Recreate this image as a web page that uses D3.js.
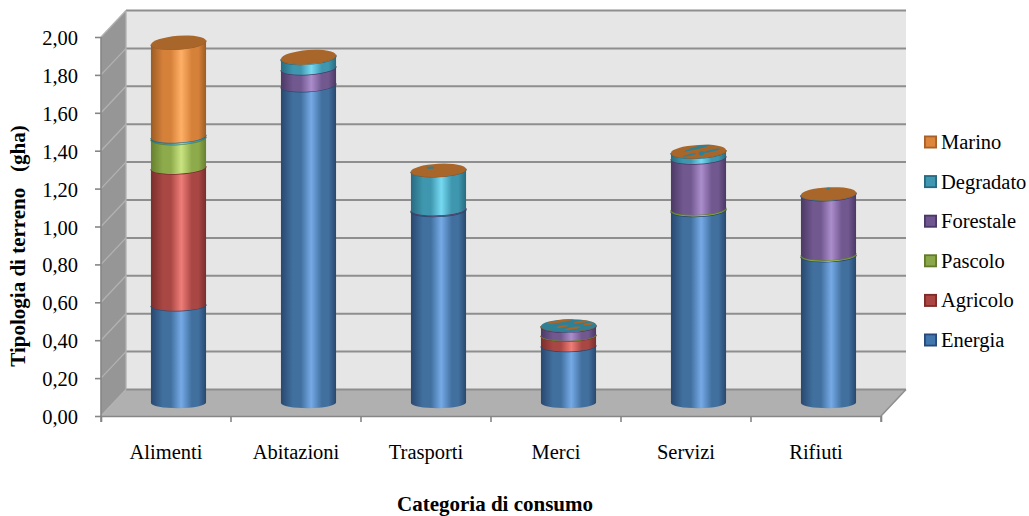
<!DOCTYPE html>
<html><head><meta charset="utf-8">
<script src="https://cdnjs.cloudflare.com/ajax/libs/d3/7.8.5/d3.min.js"></script>
<style>
html,body{margin:0;padding:0;background:#fff}
text{font-family:"Liberation Serif","Times New Roman",serif;fill:#000}
</style></head><body>
<svg id="chart" width="1029" height="516"></svg>
<script>
// Ecological footprint per consumption category, land types stacked
const categories = ["Alimenti","Abitazioni","Trasporti","Merci","Servizi","Rifiuti"];
const energia   = [0.515, 1.675, 1.015, 0.30, 1.015, 0.775];
const agricolo  = [0.725, 0, 0, 0.055, 0, 0];
const pascolo   = [0.155, 0, 0, 0.002, 0.008, 0.008];
const forestale = [0, 0.09, 0.005, 0.045, 0.27, 0.315];
const degradato = [0.01, 0.055, 0.205, 0.005, 0.03, 0.003];
const marino    = [0.495, 0.005, 0.002, 0.001, 0.003, 0.002];
const seriesNames = ["Energia","Agricolo","Pascolo","Forestale","Degradato","Marino"];
const yTicks = [0,0.2,0.4,0.6,0.8,1.0,1.2,1.4,1.6,1.8,2.0];

const palette = {
  Energia:  {edge:"#28486e", mid:"#41709f", light:"#76aae6", swatch:"#4277ae", border:"#26497a"},
  Agricolo: {edge:"#7a2e2c", mid:"#a94744", light:"#ef7d78", swatch:"#ab4542", border:"#7d2b2a"},
  Pascolo:  {edge:"#66802f", mid:"#8dab4b", light:"#cbe482", swatch:"#8aa84a", border:"#627a2d"},
  Forestale:{edge:"#4b3965", mid:"#71588f", light:"#ab8dcc", swatch:"#6f5690", border:"#4a3866"},
  Degradato:{edge:"#296b80", mid:"#3e97ae", light:"#76daf2", swatch:"#3f97b1", border:"#276a80"},
  Marino:   {edge:"#9c5c24", mid:"#d6813a", light:"#ffb066", swatch:"#dd853a", border:"#a8602a"}
};
const capColor = "#a9662a";
const labelSize = 20.5;

const rows = categories.map((c,i)=>({category:c,Energia:energia[i],Agricolo:agricolo[i],Pascolo:pascolo[i],
  Forestale:forestale[i],Degradato:degradato[i],Marino:marino[i]}));
const stacked = d3.stack().keys(seriesNames)(rows);

const svg = d3.select("#chart");
const x = d3.scaleBand().domain(categories).range([101,881]);
const y = d3.scaleLinear().domain([0,2]).range([416,37]);
const depthX = 25, depthY = 26.5;

// Gradients for cylinder shading
const defs = svg.append("defs");
seriesNames.forEach(n=>{
  const p = palette[n];
  const g = defs.append("linearGradient").attr("id","g-"+n).attr("x1","0").attr("x2","1").attr("y1","0").attr("y2","0");
  [[0,p.edge],[0.22,p.mid],[0.36,p.mid],[0.55,p.light],[0.74,p.mid],[0.86,p.mid],[1,p.edge]]
    .forEach(([o,c])=>g.append("stop").attr("offset",o).attr("stop-color",c));
});

// Walls and floor of the chart box
const x0 = x.range()[0], x1 = x.range()[1], yB = y(0), yT = y(2);
const poly = (pts,fill)=>svg.append("polygon").attr("points",pts.map(p=>p.join(",")).join(" ")).attr("fill",fill);
poly([[x0+depthX,yT-depthY],[x1+depthX,yT-depthY],[x1+depthX,yB-depthY],[x0+depthX,yB-depthY]],"#e6e6e6");
poly([[x0,yT],[x0+depthX,yT-depthY],[x0+depthX,yB-depthY],[x0,yB]],"#969696");
poly([[x0,yB],[x0+depthX,yB-depthY],[x1+depthX,yB-depthY],[x1,yB]],"#b0b0b0");

// Gridlines along the side and back walls
svg.append("g").selectAll("line").data(yTicks).join("line")
  .attr("x1",x0).attr("y1",d=>y(d)).attr("x2",x0+depthX).attr("y2",d=>y(d)-depthY)
  .attr("stroke","#b2b2b2").attr("stroke-width",1.3);
svg.append("g").selectAll("line").data(yTicks).join("line")
  .attr("x1",x0+depthX).attr("y1",d=>y(d)-depthY).attr("x2",x1+depthX).attr("y2",d=>y(d)-depthY)
  .attr("stroke","#8e8e8e").attr("stroke-width",2);
svg.append("line").attr("x1",x0+depthX).attr("x2",x0+depthX).attr("y1",yT-depthY).attr("y2",yB-depthY)
  .attr("stroke","#b2b2b2").attr("stroke-width",1.3);
svg.append("line").attr("x1",x1).attr("y1",yB).attr("x2",x1+depthX).attr("y2",yB-depthY)
  .attr("stroke","#8e8e8e").attr("stroke-width",1.5);

// Axes on the front edge
const yAxis = d3.axisLeft(y).tickValues(yTicks).tickSize(6).tickPadding(17)
  .tickFormat(d=>d3.format(".2f")(d).replace(".",","));
const gy = svg.append("g").attr("transform",`translate(${x0},0)`).call(yAxis);
gy.selectAll("text").attr("font-size",labelSize).attr("font-family","Liberation Serif").attr("fill","#000").attr("dy","0.37em");
gy.selectAll("line,path").attr("stroke","#868686").attr("stroke-width",1.6);
gy.select("path").attr("d",`M0,${yB}V${yT}`);

const xAxis = d3.axisBottom(x).tickSize(6).tickPadding(22.4).tickSizeOuter(6);
const gx = svg.append("g").attr("transform",`translate(0,${yB})`).call(xAxis);
gx.selectAll("text").attr("font-size",labelSize).attr("font-family","Liberation Serif").attr("fill","#000");
gx.selectAll(".tick line").remove();
gx.select("path").attr("stroke","#868686").attr("stroke-width",1.6);
gx.selectAll("line.sep").data(d3.range(categories.length+1)).join("line").attr("class","sep")
  .attr("x1",i=>x0+i*x.step()).attr("x2",i=>x0+i*x.step()).attr("y1",0).attr("y2",6)
  .attr("stroke","#868686").attr("stroke-width",1.6);

// Cylinder geometry: centre line sits half way into the box depth
const rx = x.step()*0.212;
const cx = c => x(c)+x.bandwidth()/2+depthX/2;
const cyOf = v => y(v)-depthY/2;
const tilt = v => 0.5+2*v;              // perspective tilt of the rim in degrees
const ry = v => 5.4+0.5*v;
const rimEnds = (c,v)=>{
  const dy = rx*Math.sin(tilt(v)*Math.PI/180);
  return {lx:cx(c)-rx, ly:cyOf(v)+dy, rxx:cx(c)+rx, ry:cyOf(v)-dy};
};
const frontArc = (c,v)=>{
  const e = rimEnds(c,v);
  return `M${e.lx},${e.ly}A${rx},${ry(v)} ${-tilt(v)} 0 0 ${e.rxx},${e.ry}`;
};
const segmentPath = (c,v0,v1)=>{
  const a = rimEnds(c,v0), b = rimEnds(c,v1);
  return `M${a.lx},${a.ly}A${rx},${ry(v0)} ${-tilt(v0)} 0 0 ${a.rxx},${a.ry}L${b.rxx},${b.ry}L${b.lx},${b.ly}Z`;
};

// Stacked cylinder segments, bottom to top
const bars = svg.append("g");
stacked.forEach((layer)=>{
  const n = layer.key;
  const g = bars.append("g").attr("class","series-"+n);
  const live = layer.map(d=>({c:d.data.category,v0:d[0],v1:d[1]})).filter(d=>d.v1>d.v0);
  g.selectAll("path.body").data(live).join("path").attr("class","body")
    .attr("d",d=>segmentPath(d.c,d.v0,d.v1)).attr("fill",`url(#g-${n})`);
  g.selectAll("path.rim").data(live).join("path").attr("class","rim")
    .attr("d",d=>frontArc(d.c,d.v1)).attr("fill","none")
    .attr("stroke",palette[n].edge).attr("stroke-width",1.4);
});

// Top caps: where the top layers are nearly empty the two colours interleave
const totals = rows.map((r,i)=>({c:r.category,v:d3.sum(seriesNames,k=>r[k])}));
const caps = svg.append("g");
const teal = "#2f8094";
totals.forEach((t,i)=>{
  const g = caps.append("g").attr("transform",`translate(${cx(t.c)},${cyOf(t.v)}) rotate(${-tilt(t.v)})`);
  const capRy = ry(t.v)+0.5;
  defs.append("clipPath").attr("id","cap-"+i).append("ellipse").attr("rx",rx).attr("ry",capRy);
  g.append("ellipse").attr("rx",rx).attr("ry",capRy)
    .attr("fill",t.c==="Merci"?teal:capColor);
  const inner = g.append("g").attr("clip-path",`url(#cap-${i})`);
  const fleck = (list,fill,rot)=>list.forEach(f=>
    inner.append("ellipse").attr("cx",f[0]).attr("cy",f[1]).attr("rx",f[2]).attr("ry",f[3]).attr("fill",fill)
      .attr("transform",`rotate(${rot} ${f[0]} ${f[1]})`));
  if(t.c==="Merci"){
    fleck([[-8,-4.5,14,1.4],[14,-3.5,9,1.2],[4,3,8,1.2],[-6,1,6,1],[20,-1,5,1]],capColor,-8);
  } else if(t.c==="Servizi"){
    fleck([[-3,-3,12,1],[13,0,9,1],[-9,3,7,.9],[4,-5,14,1],[3,2,3,2]],teal,-10);
  } else if(t.c==="Trasporti"){
    fleck([[-8,-3,4,1.2]],teal,0);
  } else if(t.c==="Rifiuti"){
    fleck([[0,-5,2,1]],teal,0);
  }
});

// Legend
const legendY = d3.scalePoint().domain(seriesNames).range([340,142]);
const lg = svg.append("g").selectAll("g").data(seriesNames).join("g")
  .attr("transform",d=>`translate(924,${legendY(d)})`);
lg.append("rect").attr("x",0.9).attr("y",-5.6).attr("width",11.2).attr("height",11.2)
  .attr("fill",d=>palette[d].swatch).attr("stroke",d=>palette[d].border).attr("stroke-width",1.8);
lg.append("text").attr("x",17).attr("y",7).attr("font-size",labelSize).text(d=>d);

// Axis titles
svg.append("text").attr("x",495).attr("y",511).attr("text-anchor","middle")
  .attr("font-size",21).attr("font-weight","bold").text("Categoria di consumo");
svg.append("text").attr("transform","translate(25,246) rotate(-90)").attr("text-anchor","middle")
  .attr("font-size",21).attr("font-weight","bold").attr("xml:space","preserve").text("Tipologia di terreno   (gha)");
</script>
</body></html>
